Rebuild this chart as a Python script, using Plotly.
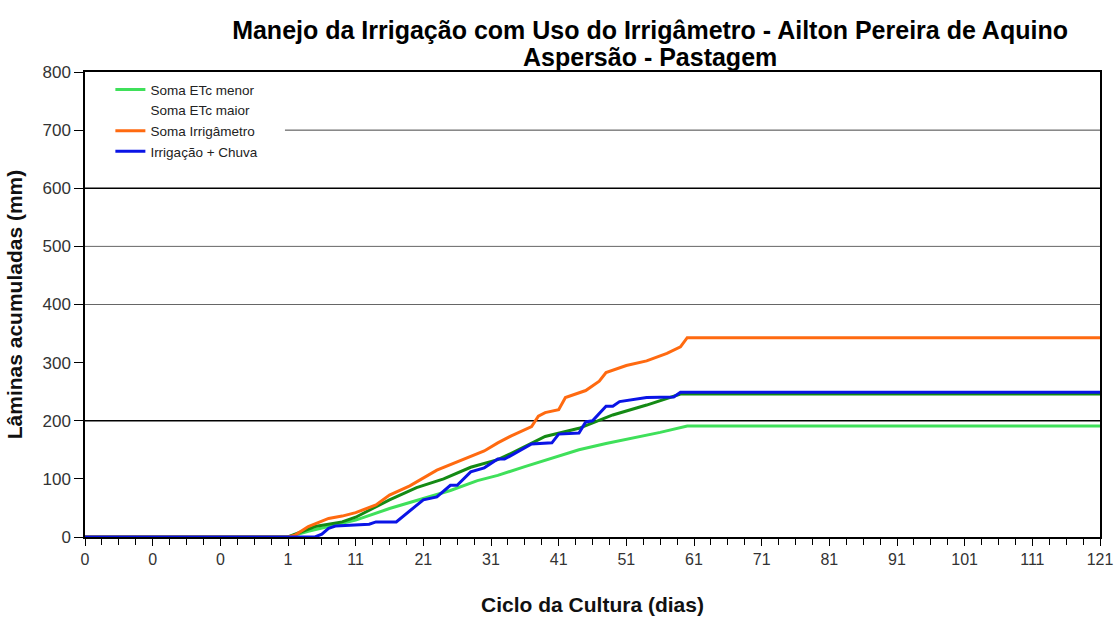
import plotly.graph_objects as go

# ---------------- data ----------------
# category axis: 151 positions; labels shown every 10 positions
tick_positions = [0, 10, 20, 30, 40, 50, 60, 70, 80, 90, 100, 110, 120, 130, 140, 150]
tick_labels = ["0", "0", "0", "1", "11", "21", "31", "41", "51", "61",
               "71", "81", "91", "101", "111", "121"]

# Soma ETc menor (light green)
etc_menor_x = [0, 30, 33, 36, 40, 45, 50, 54, 58, 61, 65, 69, 73, 77, 81, 85, 89, 150]
etc_menor_y = [0, 0, 10, 18, 29, 49, 66, 80, 97, 106, 121, 136, 150, 161, 170, 180, 191, 191]

# Soma ETc maior (dark green)
etc_maior_x = [0, 30, 34, 38, 40, 45, 49, 53, 57, 61, 63, 68, 73, 78, 83, 88, 150]
etc_maior_y = [0, 0, 18, 26, 34, 64, 85, 100, 120, 133, 144, 173, 187, 210, 227, 246, 246]

# Soma Irrigâmetro (orange)
irrig_x = [0, 30, 31, 33, 36, 38, 40, 43, 45, 48, 52, 56, 59, 61, 63, 66, 67, 68, 70, 71,
           74, 76, 77, 80, 83, 86, 88, 89, 150]
irrig_y = [0, 0, 3, 18, 32, 36, 42, 55, 72, 88, 115, 134, 148, 162, 174, 190, 208, 214, 219, 240,
           252, 268, 283, 295, 303, 316, 327, 343, 343]

# Irrigação + Chuva (blue)
chuva_x = [0, 34, 35, 36, 37, 42, 43, 46, 50, 52, 54, 55, 57, 59, 61, 62, 66, 69, 70, 73,
           74, 75, 77, 78, 79, 83, 87, 88, 150]
chuva_y = [0, 0, 5, 15, 19, 22, 26, 26, 64, 69, 89, 89, 112, 119, 134, 134, 160, 162, 177, 179,
           198, 200, 225, 225, 233, 240, 241, 249, 249]

# horizontal reference lines visible in the picture (value, colour, width, start)
grid_levels = [700, 600, 500, 400, 200]
grid_colors = ["#444444", "#000000", "#666666", "#666666", "#000000"]
grid_widths = [1, 1.5, 1, 1, 1.5]
grid_starts = [0.197, 0, 0, 0, 0]

title_line1 = "Manejo da Irrigação com Uso do Irrigâmetro - Ailton Pereira de Aquino"
title_line2 = "Aspersão - Pastagem"

# ---------------- figure ----------------
fig = go.Figure()

fig.add_trace(go.Scatter(x=etc_menor_x, y=etc_menor_y, mode="lines", name="Soma ETc menor",
                         line=dict(color="#3fe05a", width=3)))
fig.add_trace(go.Scatter(x=etc_maior_x, y=etc_maior_y, mode="lines", name="Soma ETc maior ",
                         showlegend=False, line=dict(color="#148a14", width=3)))
fig.add_trace(go.Scatter(x=[None], y=[None], mode="lines", name="Soma ETc maior",
                         line=dict(color="#ffffff", width=3)))
fig.add_trace(go.Scatter(x=irrig_x, y=irrig_y, mode="lines", name="Soma Irrigâmetro",
                         line=dict(color="#ff6a10", width=3)))
fig.add_trace(go.Scatter(x=chuva_x, y=chuva_y, mode="lines", name="Irrigação + Chuva",
                         line=dict(color="#0a14e6", width=3)))

for v, c, w, s in zip(grid_levels, grid_colors, grid_widths, grid_starts):
    fig.add_shape(type="line", xref="paper", yref="y", x0=s, x1=1, y0=v, y1=v,
                  line=dict(color=c, width=w), layer="below")

title_font = dict(size=25, family="Liberation Sans, Arial, sans-serif", color="#000000", weight="bold")

fig.update_layout(
    width=1115, height=617,
    paper_bgcolor="white", plot_bgcolor="white",
    margin=dict(l=85, r=15, t=72, b=80, autoexpand=False),
    font=dict(family="Liberation Sans, Arial, sans-serif", color="#111111"),
    title=dict(text=title_line1, x=0.583, xanchor="center", y=0.951, yanchor="middle",
               font=title_font),
    showlegend=True,
    legend=dict(
        x=0.025, y=0.995, xanchor="left", yanchor="top",
        bgcolor="rgba(0,0,0,0)", borderwidth=0,
        font=dict(size=13.5, color="#222222"),
        tracegroupgap=0,
    ),
)
fig.add_annotation(text=title_line2, xref="paper", yref="paper", x=0.557, y=1.032,
                   xanchor="center", yanchor="middle", showarrow=False, font=title_font)

fig.update_xaxes(
    range=[0, 150], automargin=False,
    tickmode="array", tickvals=tick_positions, ticktext=tick_labels,
    ticks="outside", ticklen=7, tickwidth=1.2, tickcolor="black",
    minor=dict(ticks="outside", ticklen=6, tickwidth=1, tickcolor="black", dtick=2.5, tick0=0,
               showgrid=False),
    showgrid=False, zeroline=False,
    showline=True, linecolor="black", linewidth=1.5, mirror=True,
    tickfont=dict(size=16, color="#333333"),
    title=dict(text="<b>Ciclo da Cultura (dias)</b>", font=dict(size=21, color="#111111"), standoff=30),
)
fig.update_yaxes(
    range=[0, 800], tickmode="linear", tick0=0, dtick=100, automargin=False,
    ticks="outside", ticklen=9, tickwidth=1.2, tickcolor="black",
    showgrid=False, zeroline=False,
    showline=True, linecolor="black", linewidth=1.5, mirror=True,
    tickfont=dict(size=17, color="#333333"),
    title=dict(text="<b>Lâminas acumuladas (mm)</b>", font=dict(size=21, color="#111111"), standoff=14),
)

fig.write_html("out.html", config={"displayModeBar": False},
               post_script="document.body.style.margin='0';")
